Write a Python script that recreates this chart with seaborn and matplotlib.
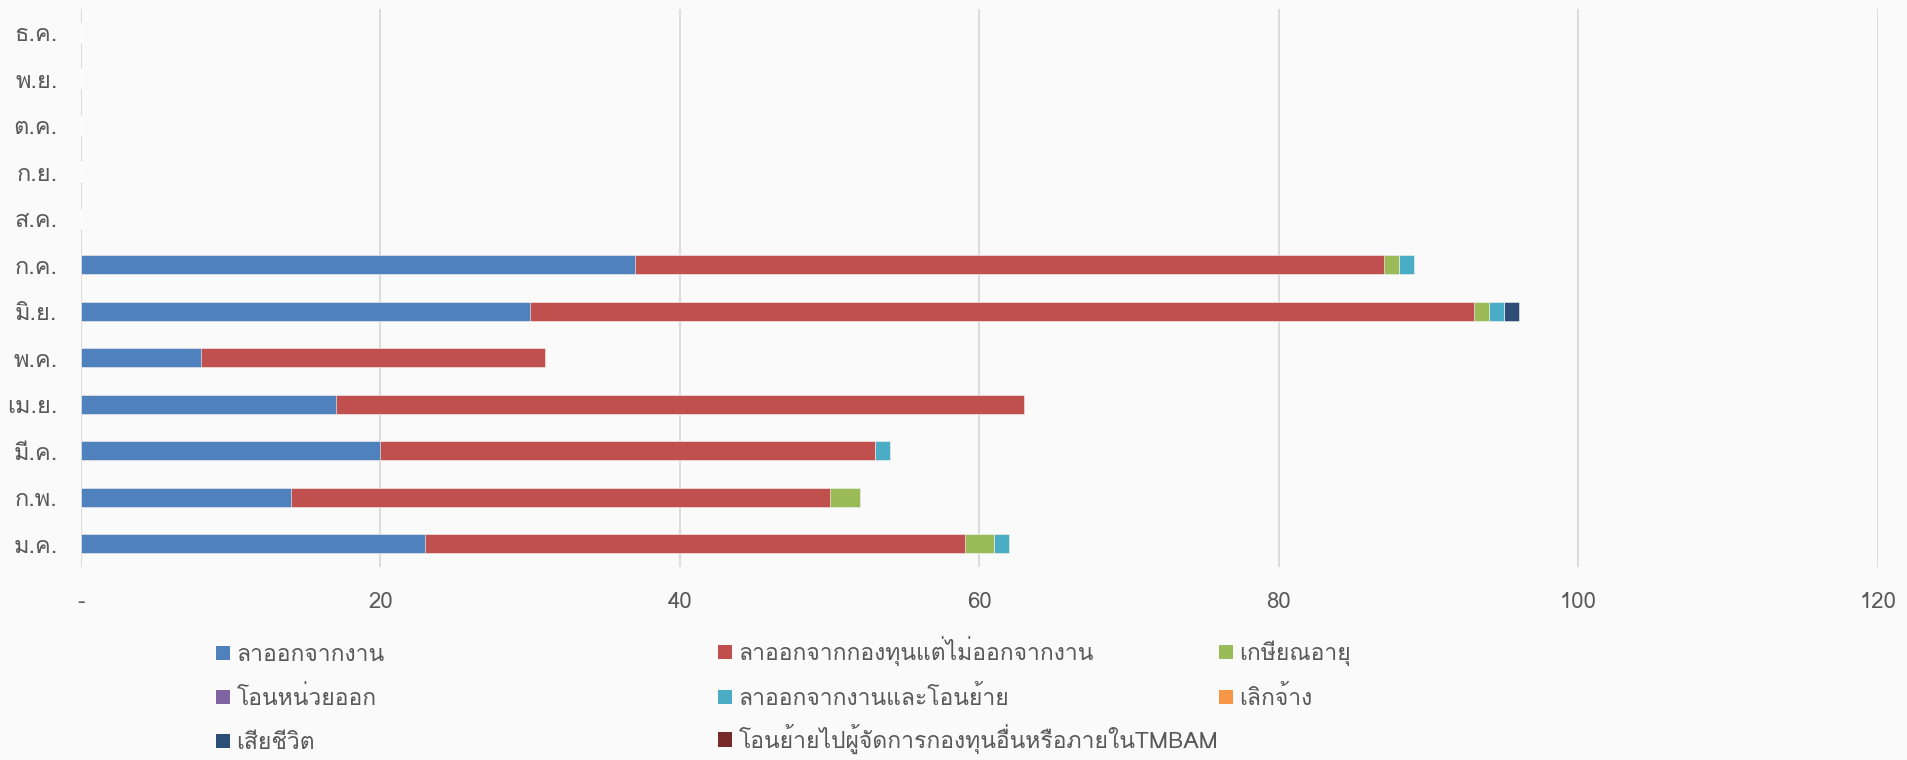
import numpy as np
import pandas as pd
import matplotlib
matplotlib.use("Agg")
import matplotlib.pyplot as plt
import seaborn as sns
from matplotlib import font_manager as fm
from matplotlib.ft2font import FT2Font
from matplotlib.patches import Patch
from matplotlib.ticker import FixedLocator, FixedFormatter

# ---------------- data ----------------
months = ["ม.ค.", "ก.พ.", "มี.ค.", "เม.ย.", "พ.ค.", "มิ.ย.",
          "ก.ค.", "ส.ค.", "ก.ย.", "ต.ค.", "พ.ย.", "ธ.ค."]
series_names = [
    "ลาออกจากงาน",
    "ลาออกจากกองทุนแต่ไม่ออกจากงาน",
    "เกษียณอายุ",
    "โอนหน่วยออก",
    "ลาออกจากงานและโอนย้าย",
    "เลิกจ้าง",
    "เสียชีวิต",
    "โอนย้ายไปผู้จัดการกองทุนอื่นหรือภายในTMBAM",
]
resign_job = [23, 14, 20, 17, 8, 30, 37, 0, 0, 0, 0, 0]
resign_fund = [36, 36, 33, 46, 23, 63, 50, 0, 0, 0, 0, 0]
retire = [2, 2, 0, 0, 0, 1, 1, 0, 0, 0, 0, 0]
transfer_units = [0, 0, 0, 0, 0, 0, 0, 0, 0, 0, 0, 0]
resign_transfer = [1, 0, 1, 0, 0, 1, 1, 0, 0, 0, 0, 0]
dismissed = [0, 0, 0, 0, 0, 0, 0, 0, 0, 0, 0, 0]
deceased = [0, 0, 0, 0, 0, 1, 0, 0, 0, 0, 0, 0]
moved_other = [0, 0, 0, 0, 0, 0, 0, 0, 0, 0, 0, 0]
x_ticks = [0, 20, 40, 60, 80, 100, 120]
x_tick_labels = ["-", "20", "40", "60", "80", "100", "120"]

colors = ["#4F81BD", "#C0504D", "#9BBB59", "#8064A2",
          "#4BACC6", "#F79646", "#2C4D75", "#772C2A"]

# ---------------- fonts ----------------
def find_thai_family():
    best = None
    for f in fm.fontManager.ttflist:
        try:
            cmap = FT2Font(f.fname).get_charmap()
        except Exception:
            continue
        if 0x0E01 in cmap and 0x0E32 in cmap and 0x0E22 in cmap:
            if f.weight in ("normal", 400, "regular") and f.style == "normal":
                return f.name
            if best is None:
                best = f.name
    return best

sns.set_theme(style="white")
thai = find_thai_family()
fams = ([thai] if thai else []) + ["DejaVu Sans"]
plt.rcParams["font.family"] = fams

bg = "#FAFAFA"
txt = "#595959"
W, H = 1908, 760

# ---------------- figure ----------------
fig = plt.figure(figsize=(W / 100, H / 100), dpi=100, facecolor=bg)
ax = fig.add_axes([81 / W, 1 - 567 / H, (1878 - 81) / W, (567 - 9) / H])
ax.set_facecolor(bg)

series = [resign_job, resign_fund, retire, transfer_units,
          resign_transfer, dismissed, deceased, moved_other]
cum = np.cumsum(np.array(series, dtype=float), axis=0)
order = months[::-1]

for i in range(len(series) - 1, -1, -1):
    df = pd.DataFrame({"month": months, "value": cum[i]})
    sns.barplot(data=df, x="value", y="month", order=order, orient="h",
                color=colors[i], saturation=1, width=0.4,
                edgecolor="white", linewidth=0.4, ax=ax)

ax.set_xlim(0, 120)
ax.set_ylim(11.5, -0.5)
ax.xaxis.set_major_locator(FixedLocator(x_ticks))
ax.xaxis.set_major_formatter(FixedFormatter(x_tick_labels))
ax.grid(axis="x", color="#D9D9D9", linewidth=1.3)
ax.set_axisbelow(True)
for s in ax.spines.values():
    s.set_visible(False)
ax.tick_params(axis="x", length=0, pad=18, labelsize=16, labelcolor=txt)
ax.tick_params(axis="y", length=0, pad=17, labelsize=17, labelcolor=txt)
ax.set_xlabel("")
ax.set_ylabel("")

# ---------------- legend (3 columns x 3 rows, placed per entry) ----------------
col_x = [216, 718, 1219]
row_y = [653, 697, 741]
for k, name in enumerate(series_names):
    r, c = divmod(k, 3)
    fig.legend([Patch(facecolor=colors[k], edgecolor="none")], [name],
               loc="lower left",
               bbox_to_anchor=(col_x[c] / W, 1 - (row_y[r] + 13) / H),
               frameon=False, fontsize=16.5, labelcolor=txt,
               handlelength=0.6, handleheight=0.6,
               handletextpad=0.3, borderpad=0, borderaxespad=0)

fig.savefig("out.png", dpi=100, facecolor=bg)
